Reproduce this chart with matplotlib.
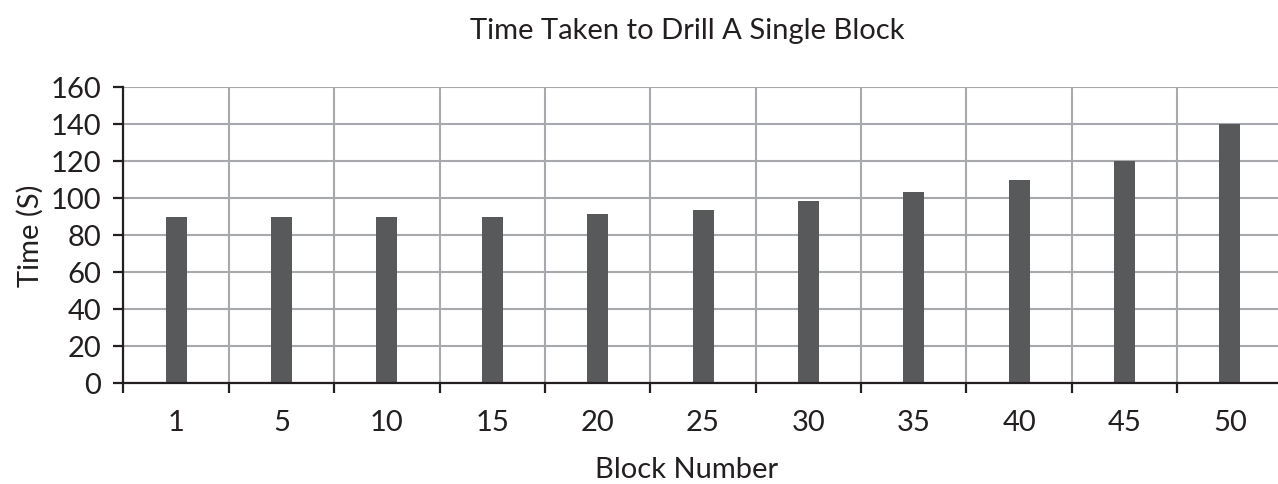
import matplotlib
matplotlib.use("Agg")
import matplotlib.pyplot as plt
import numpy as np

categories = ["1", "5", "10", "15", "20", "25", "30", "35", "40", "45", "50"]
times = [90, 90, 90, 90, 91.5, 93.5, 98.5, 103.5, 109.5, 120, 140]
yticks = [0, 20, 40, 60, 80, 100, 120, 140, 160]

plt.rcParams['font.family'] = ['Lato', 'DejaVu Sans']
FS = 21
TXT = '#231f20'

W, H = 1278, 485
fig = plt.figure(figsize=(W / 100, H / 100), dpi=100)
left, right = 123.5, 1282.6
bottom, top = 384, 88
ax = fig.add_axes([left / W, (H - bottom) / H, (right - left) / W, (bottom - top) / H])

x = np.arange(len(categories))
ax.bar(x, times, width=0.2, color='#58595b', zorder=3)

ax.set_xlim(-0.5, len(categories) - 0.5)
ax.set_ylim(0, 160)
ax.set_yticks(yticks)
ax.set_yticklabels([str(v) for v in yticks])

ax.set_xticks(x)
ax.set_xticklabels(categories)
ax.set_xticks(np.arange(len(categories) + 1) - 0.5, minor=True)

ax.grid(axis='y', which='major', color='#a7a9ac', linewidth=1.5, zorder=1)
ax.grid(axis='x', which='minor', color='#a7a9ac', linewidth=1.5, zorder=1)
ax.grid(axis='x', which='major', visible=False)

for s in ['top', 'right']:
    ax.spines[s].set_visible(False)
for s in ['left', 'bottom']:
    ax.spines[s].set_color(TXT)
    ax.spines[s].set_linewidth(1.6)
    ax.spines[s].set_zorder(4)

ax.tick_params(axis='x', which='major', length=0, pad=19, labelsize=FS, labelcolor=TXT)
ax.tick_params(axis='x', which='minor', length=7, width=1.6, color=TXT, direction='out')
ax.tick_params(axis='y', which='major', length=7, width=1.6, color=TXT, direction='out',
               pad=9, labelsize=FS, labelcolor=TXT)

fig.text(687 / W, 1 - 31 / H, "Time Taken to Drill A Single Block", ha='center', va='center',
         fontsize=FS, color=TXT)
fig.text(687 / W, 1 - 470 / H, "Block Number", ha='center', va='center',
         fontsize=FS, color=TXT)
fig.text(30 / W, 1 - 236 / H, "Time (S)", ha='center', va='center', rotation=90,
         fontsize=FS, color=TXT)

fig.savefig("out.png", dpi=100)
